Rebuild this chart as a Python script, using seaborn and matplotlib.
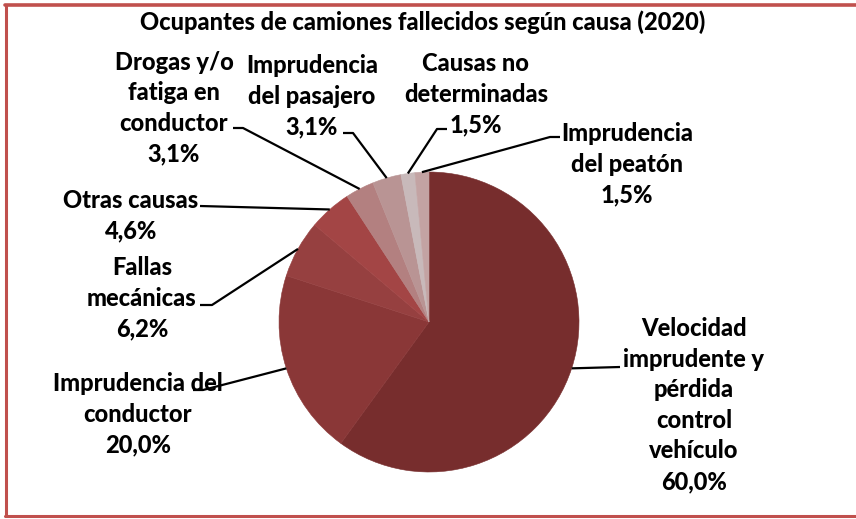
import numpy as np
import matplotlib
matplotlib.use("Agg")
import matplotlib.pyplot as plt
import seaborn as sns
from matplotlib.lines import Line2D

# ---- data ----
causes = [
    "Velocidad\nimprudente y\npérdida\ncontrol\nvehículo",
    "Imprudencia del\nconductor",
    "Fallas\nmecánicas",
    "Otras causas",
    "Drogas y/o\nfatiga en\nconductor",
    "Imprudencia\ndel pasajero",
    "Causas no\ndeterminadas",
    "Imprudencia\ndel peatón",
]
percentages = [60.0, 20.0, 6.2, 4.6, 3.1, 3.1, 1.5, 1.5]
title = "Ocupantes de camiones fallecidos según causa (2020)"

colors = ["#772D2D", "#8A3737", "#964040", "#A34545",
          "#B38080", "#B99494", "#C8B9BA", "#C3A3A3"]

sns.set_theme(style="white")
plt.rcParams['font.family'] = ['Lato', 'DejaVu Sans']

W, H = 856, 519
fig = plt.figure(figsize=(W / 100, H / 100), dpi=100)
ax = fig.add_axes([0, 0, 1, 1])

cx, cy, R = 429, 322, 150
wedges, _ = ax.pie(percentages, colors=colors, startangle=90, counterclock=False,
                   center=(cx, H - cy), radius=R, frame=True,
                   wedgeprops=dict(linewidth=0.4))
for w, c in zip(wedges, colors):
    w.set_edgecolor(c)
ax.set_xlim(0, W)
ax.set_ylim(0, H)
ax.set_aspect('equal')
ax.axis('off')

# label layout: (text center x, text center y, [leader points in px])
layout = [
    (694, 405, [(620, 367)]),
    (138, 414, [(193, 390), (203, 390)]),
    (142, 298, [(200, 305), (212, 305)]),
    (131, 216, [(200, 206)]),
    (174, 108, [(233, 128), (243, 128)]),
    (312, 96, [(343, 133), (353, 133)]),
    (476, 94, [(447, 129), (437, 129)]),
    (627, 164, [(560, 137), (550, 137)]),
]

fs = 17
for w, lab, pct, (tx, ty, pts) in zip(wedges, causes, percentages, layout):
    txt = f"{lab}\n{pct:.1f}%".replace(".", ",")
    ax.text(tx, H - ty, txt, ha='center', va='center', fontsize=fs,
            fontweight='black', color='black', linespacing=1.40)
    ang = np.deg2rad((w.theta1 + w.theta2) / 2)
    ex = w.center[0] + w.r * np.cos(ang)
    ey = w.center[1] + w.r * np.sin(ang)
    xs = [p[0] for p in pts] + [ex]
    ys = [H - p[1] for p in pts] + [ey]
    ax.plot(xs, ys, color='black', lw=1.6, solid_capstyle='butt', zorder=5)

ax.text(423, H - 22, title, ha='center', va='center', fontsize=17,
        fontweight='black', color='black')

# frame border (top, left, bottom)
bc = '#C0504D'
fig.add_artist(Line2D([5 / W, 1], [1 - 5 / H, 1 - 5 / H], color=bc, lw=2.6, transform=fig.transFigure))
fig.add_artist(Line2D([6 / W, 6 / W], [1 - 5 / H, 1 - 516 / H], color=bc, lw=2.2, transform=fig.transFigure))
fig.add_artist(Line2D([5 / W, 1], [1 - 516 / H, 1 - 516 / H], color=bc, lw=2.2, transform=fig.transFigure))

fig.savefig("out.png", dpi=100)
